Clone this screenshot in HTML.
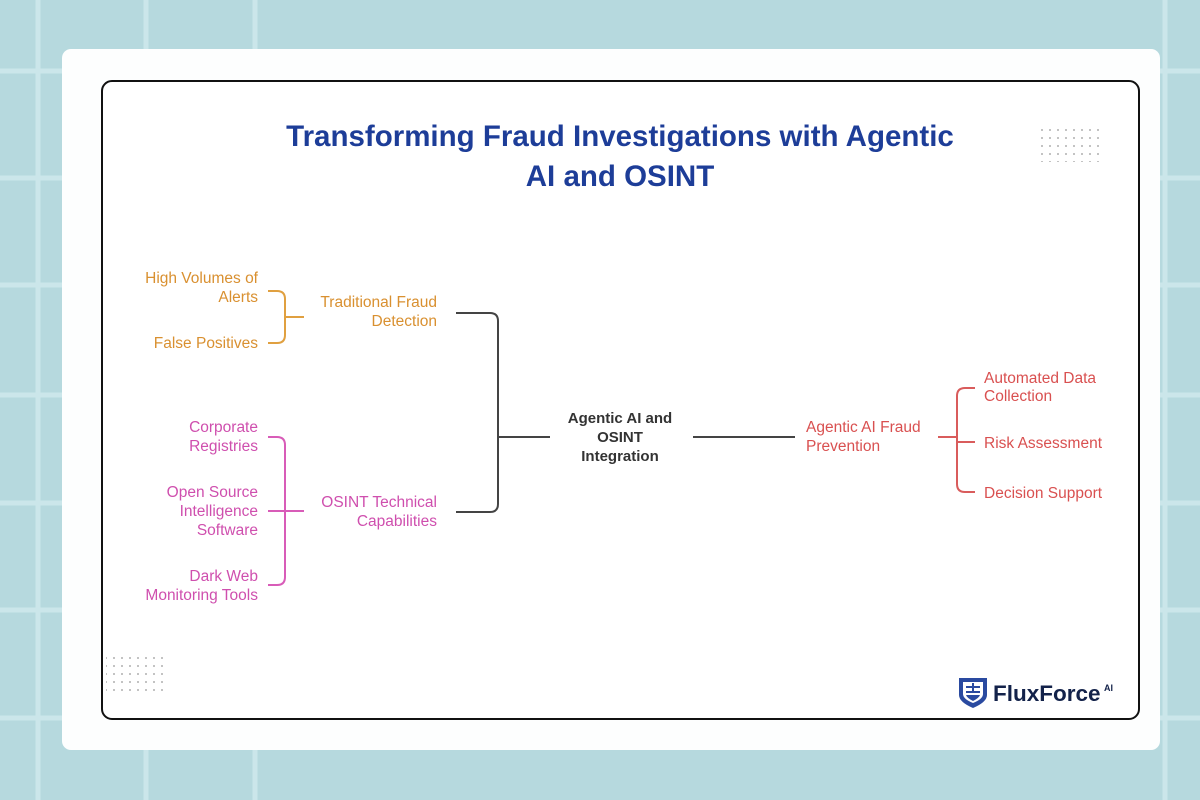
<!DOCTYPE html>
<html><head><meta charset="utf-8"><style>
html,body{margin:0;padding:0;width:1200px;height:800px;overflow:hidden;background:#b6d9de;}
svg{display:block}
text{font-family:"Liberation Sans",sans-serif;}
</style></head><body>
<svg width="1200" height="800" viewBox="0 0 1200 800" xmlns="http://www.w3.org/2000/svg">
<g stroke="#cbe6ea" stroke-width="5">
<line x1="38" y1="0" x2="38" y2="800"/><line x1="146" y1="0" x2="146" y2="800"/><line x1="255" y1="0" x2="255" y2="800"/>
<line x1="1165" y1="0" x2="1165" y2="800"/><line x1="0" y1="71" x2="1200" y2="71"/><line x1="0" y1="178" x2="1200" y2="178"/>
<line x1="0" y1="285" x2="1200" y2="285"/><line x1="0" y1="395" x2="1200" y2="395"/><line x1="0" y1="503" x2="1200" y2="503"/>
<line x1="0" y1="610" x2="1200" y2="610"/><line x1="0" y1="718" x2="1200" y2="718"/>
</g>
<rect x="62" y="49" width="1098" height="701" rx="9" fill="#fdfefe"/>
<rect x="102" y="81" width="1037" height="638" rx="10" fill="#fff" stroke="#111" stroke-width="2"/>
<g fill="#b0b0b0">
<pattern id="d" width="8" height="8" patternUnits="userSpaceOnUse"><circle cx="2" cy="2" r="1"/></pattern>
<rect x="1036" y="124" width="68" height="38" fill="url(#d)"/>
<rect x="106" y="656" width="60" height="40" fill="url(#d)"/>
</g>
<text x="620" y="146" text-anchor="middle" font-size="29.5" font-weight="bold" fill="#1d3d98">Transforming Fraud Investigations with Agentic</text>
<text x="620" y="186" text-anchor="middle" font-size="29.5" font-weight="bold" fill="#1d3d98">AI and OSINT</text>
<g fill="none" stroke-width="2">
<path d="M456 313 H490 Q498 313 498 321 V504 Q498 512 490 512 H456 M498 437 H550 M693 437 H795" stroke="#444"/>
<path d="M268 291 H277 Q285 291 285 299 V335 Q285 343 277 343 H268 M285 317 H304" stroke="#e0a040"/>
<path d="M268 437 H277 Q285 437 285 445 V577 Q285 585 277 585 H268 M268 511 H304" stroke="#d85cb8"/>
<path d="M938 437 H957 M975 388 H965 Q957 388 957 396 V484 Q957 492 965 492 H975 M957 442 H975" stroke="#d95c5c"/>
</g>
<g font-size="15.5" text-anchor="end" fill="#d99030">
<text x="258" y="283">High Volumes of</text><text x="258" y="302">Alerts</text>
<text x="258" y="348">False Positives</text>
<text x="437" y="307">Traditional Fraud</text><text x="437" y="326">Detection</text>
</g>
<g font-size="15.5" text-anchor="end" fill="#cf4fae">
<text x="258" y="432">Corporate</text><text x="258" y="451">Registries</text>
<text x="258" y="497">Open Source</text><text x="258" y="516">Intelligence</text><text x="258" y="535">Software</text>
<text x="258" y="581">Dark Web</text><text x="258" y="600">Monitoring Tools</text>
<text x="437" y="507">OSINT Technical</text><text x="437" y="526">Capabilities</text>
</g>
<g font-size="15" font-weight="bold" text-anchor="middle" fill="#333">
<text x="620" y="423">Agentic AI and</text><text x="620" y="442">OSINT</text><text x="620" y="461">Integration</text>
</g>
<g font-size="15.5" fill="#d95050">
<text x="806" y="432">Agentic AI Fraud</text><text x="806" y="451">Prevention</text>
<text x="984" y="383">Automated Data</text><text x="984" y="401">Collection</text>
<text x="984" y="448">Risk Assessment</text>
<text x="984" y="498">Decision Support</text>
</g>
<g>
<path d="M959 678 H987 V695 Q987 702 973 708 Q959 702 959 695 Z" fill="#2a4aa0"/>
<path d="M963 682 H983 V694 Q983 699 973 703 Q963 699 963 694 Z" fill="#fff"/>
<rect x="966" y="686" width="14" height="2" fill="#2a4aa0"/><rect x="966" y="691" width="14" height="2" fill="#2a4aa0"/>
<rect x="972" y="683" width="2" height="10" fill="#2a4aa0"/>
<path d="M966 695 H980 Q979 698 973 701 Q967 698 966 695 Z" fill="#2a4aa0"/>
<text x="993" y="701" font-size="22.5" font-weight="bold" fill="#13224a">FluxForce</text>
<text x="1104" y="691" font-size="9" font-weight="bold" fill="#13224a">AI</text>
</g>
</svg>
</body></html>
